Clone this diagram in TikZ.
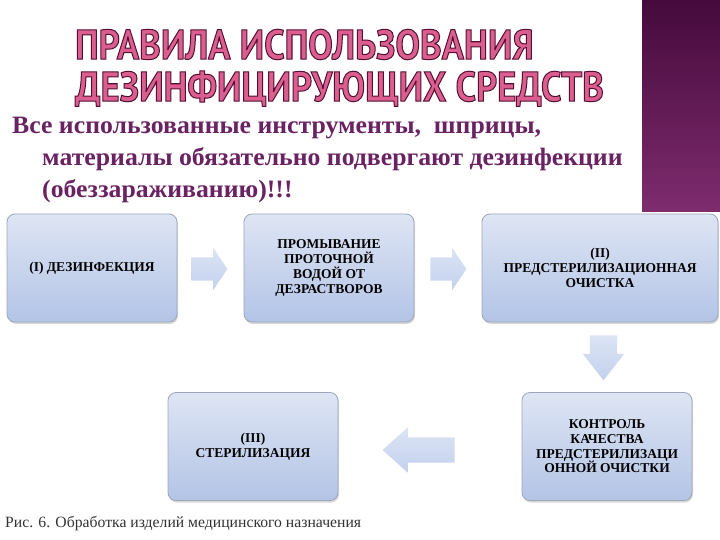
\documentclass[tikz,border=0pt]{standalone}
\usepackage{fontspec}
\setmainfont{Liberation Serif}
\newfontfamily\titlefont[FakeStretch=0.875]{PT Sans}
\newfontfamily\bodyfont[FakeStretch=1.03]{Liberation Serif}
\usetikzlibrary{shapes.arrows,shadows,calc}

\definecolor{barTop}{HTML}{450A3C}
\definecolor{barBot}{HTML}{7E2C6E}
\definecolor{titlePink}{HTML}{DB5F8E}
\definecolor{bodyPurple}{HTML}{6A2262}
\definecolor{boxTop}{HTML}{DEE5F4}
\definecolor{boxBot}{HTML}{B3C4E6}
\definecolor{boxLine}{HTML}{9CA6BA}
\definecolor{arrTop}{HTML}{DCE4F4}
\definecolor{arrBot}{HTML}{C3D1EE}

\newcommand{\outlineon}{\special{pdf:literal direct 2 Tr 1 w 0.33 0.06 0.2 RG}}
\newcommand{\outlineoff}{\special{pdf:literal direct 0 Tr}}

\tikzset{
  stepbox/.style={rectangle, rounded corners=8pt, draw=boxLine, line width=0.8pt,
    top color=boxTop, bottom color=boxBot, minimum width=170pt, minimum height=108pt,
    align=center, font=\bfseries\fontsize{13.5}{14.7}\selectfont, text=black,
    drop shadow={opacity=0.3, shadow xshift=1pt, shadow yshift=-2pt}, inner sep=2pt},
  blockarrow/.style={single arrow, draw=none, top color=arrTop, bottom color=arrBot,
    outer sep=0pt, minimum width=0pt, anchor=tail},
}

\begin{document}
\begin{tikzpicture}[x=1pt,y=-1pt]
\useasboundingbox (0,0) rectangle (720,540);
\fill[white] (0,0) rectangle (720,540);

% purple side bar
\fill[top color=barTop, bottom color=barBot] (642,0) rectangle (720,212);

% title
\node[anchor=north west, align=left, inner sep=0pt,
  font=\titlefont\bfseries\fontsize{42}{42}\selectfont, text=titlePink] (title) at (75,29)
  {\outlineon ПРАВИЛА ИСПОЛЬЗОВАНИЯ\\ДЕЗИНФИЦИРУЮЩИХ СРЕДСТВ\outlineoff};

% body text
\node[anchor=base west, align=left, inner sep=0pt,
  font=\bodyfont\bfseries\fontsize{25}{32}\selectfont, text=bodyPurple] (intro) at (12,198)
  {Все использованные инструменты,\ \ шприцы,\\
   \hspace*{30pt}материалы обязательно подвергают дезинфекции\\
   \hspace*{30pt}(обеззараживанию)!!!};

% boxes
\node[stepbox] (b1) at (92,268) {(I) ДЕЗИНФЕКЦИЯ};
\node[stepbox] (b2) at (329,268) {ПРОМЫВАНИЕ\\ПРОТОЧНОЙ\\ВОДОЙ ОТ\\ДЕЗРАСТВОРОВ};
\node[stepbox, minimum width=236pt] (b3) at (600,268) {(II)\\ПРЕДСТЕРИЛИЗАЦИОННАЯ\\ОЧИСТКА};
\node[stepbox] (b4) at (607,446.5) {КОНТРОЛЬ\\КАЧЕСТВА\\ПРЕДСТЕРИЛИЗАЦИ\\ОННОЙ ОЧИСТКИ};
\node[stepbox] (b5) at (253,446.5) {(III)\\СТЕРИЛИЗАЦИЯ};

% block arrows
\node[blockarrow, minimum height=36pt, inner sep=11.5pt, single arrow head extend=9.5pt,
  single arrow tip angle=112] (a1) at ($(b1.east)+(14,1)$) {};
\node[blockarrow, minimum height=36pt, inner sep=11.5pt, single arrow head extend=9.5pt,
  single arrow tip angle=112] (a2) at ($(b2.east)+(16,1)$) {};
\node[blockarrow, shape border rotate=270, minimum height=43pt, inner sep=13.5pt,
  single arrow head extend=7pt, single arrow tip angle=76] (a3) at ($(b3.south)+(3.5,13)$) {};
\node[blockarrow, shape border rotate=180, minimum height=72pt, inner sep=12.5pt,
  single arrow head extend=10pt, single arrow tip angle=84] (a4) at ($(b4.west)+(-67,3.5)$) {};

% caption
\node[anchor=base west, inner sep=0pt, font=\fontsize{15.7}{17}\selectfont, text=black!80] (cap) at (5,527)
  {Рис. 6. Обработка изделий медицинского назначения};
\end{tikzpicture}
\end{document}
